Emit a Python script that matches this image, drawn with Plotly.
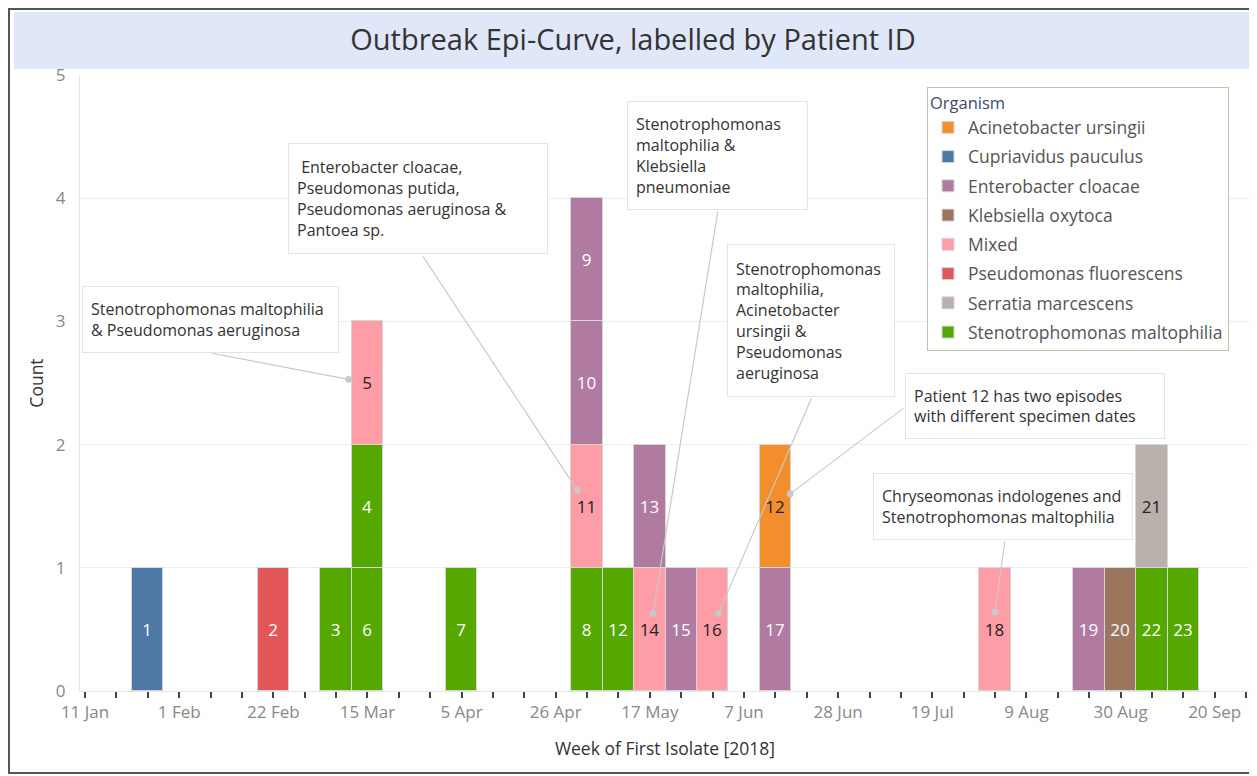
import pandas as pd
import plotly.graph_objects as go

# ---------------- data ----------------
weeks = ["2018-01-25", "2018-02-22", "2018-03-08", "2018-03-15", "2018-03-15", "2018-03-15",
         "2018-04-05", "2018-05-03", "2018-05-03", "2018-05-03", "2018-05-03", "2018-05-10",
         "2018-05-17", "2018-05-17", "2018-05-24", "2018-05-31", "2018-06-14", "2018-06-14",
         "2018-08-02", "2018-08-23", "2018-08-30", "2018-09-06", "2018-09-06", "2018-09-13"]
patients = ["1", "2", "3", "6", "4", "5", "7", "8", "11", "10", "9", "12",
            "14", "13", "15", "16", "17", "12", "18", "19", "20", "22", "21", "23"]
organisms = ["Cupriavidus pauculus", "Pseudomonas fluorescens", "Stenotrophomonas maltophilia",
             "Stenotrophomonas maltophilia", "Stenotrophomonas maltophilia", "Mixed",
             "Stenotrophomonas maltophilia", "Stenotrophomonas maltophilia", "Mixed",
             "Enterobacter cloacae", "Enterobacter cloacae", "Stenotrophomonas maltophilia",
             "Mixed", "Enterobacter cloacae", "Enterobacter cloacae", "Mixed",
             "Enterobacter cloacae", "Acinetobacter ursingii", "Mixed", "Enterobacter cloacae",
             "Klebsiella oxytoca", "Stenotrophomonas maltophilia", "Serratia marcescens",
             "Stenotrophomonas maltophilia"]
counts = [1, 1, 1, 1, 1, 1, 1, 1, 1, 1, 1, 1, 1, 1, 1, 1, 1, 1, 1, 1, 1, 1, 1, 1]

legend_order = ["Acinetobacter ursingii", "Cupriavidus pauculus", "Enterobacter cloacae",
                "Klebsiella oxytoca", "Mixed", "Pseudomonas fluorescens",
                "Serratia marcescens", "Stenotrophomonas maltophilia"]
org_colors = ["#f28e2b", "#4e79a7", "#b07aa1", "#9c755f", "#ff9da7", "#e15759",
              "#bab0ac", "#55a800"]
label_dark = ["Acinetobacter ursingii", "Mixed", "Serratia marcescens"]

tick_dates = ["2018-01-11", "2018-02-01", "2018-02-22", "2018-03-15", "2018-04-05",
              "2018-04-26", "2018-05-17", "2018-06-07", "2018-06-28", "2018-07-19",
              "2018-08-09", "2018-08-30", "2018-09-20"]
tick_labels = ["11 Jan", "1 Feb", "22 Feb", "15 Mar", "5 Apr", "26 Apr", "17 May",
               "7 Jun", "28 Jun", "19 Jul", "9 Aug", "30 Aug", "20 Sep"]

note_texts = [
    "Stenotrophomonas maltophilia<br>& Pseudomonas aeruginosa",
    "\u00a0Enterobacter cloacae,<br>Pseudomonas putida,<br>Pseudomonas aeruginosa &<br>Pantoea sp.",
    "Stenotrophomonas<br>maltophilia &<br>Klebsiella<br>pneumoniae",
    "Stenotrophomonas<br>maltophilia,<br>Acinetobacter<br>ursingii &<br>Pseudomonas<br>aeruginosa",
    "Patient 12 has two episodes<br>with different specimen dates",
    "Chryseomonas indologenes and<br>Stenotrophomonas maltophilia",
]
note_weeks = ["2018-03-15", "2018-05-03", "2018-05-17", "2018-05-31", "2018-06-14", "2018-08-02"]
note_levels = [2.53, 1.63, 0.63, 0.63, 1.6, 0.64]
note_dx_days = [-4.2, -2.2, 0.7, 1.3, 3.3, 0.0]

# ---------------- layout geometry (screen pixels) ----------------
W, H = 1257, 776
OFF = 8  # page body margin: figure origin sits at (8, 8) on screen
PL, PR, PT, PB = 80, 1250, 75, 691
X0 = pd.Timestamp("2018-01-09 21:00")
X1 = pd.Timestamp("2018-09-27 21:00")
YMAX = 5

note_boxes = [(82, 286, 339, 353), (288, 143, 548, 254), (627, 101, 808, 210),
              (727, 244, 895, 397), (905, 373, 1165, 439), (873, 473, 1133, 540)]
note_line_starts = [(210, 353), (422, 255), (718, 210), (812, 397), (905, 407), (1005, 540)]


def xpx(ts):
    return PL + (ts - X0) / (X1 - X0) * (PR - PL)


def ypx(v):
    return PB - v / YMAX * (PB - PT)


def px2paper_x(p):
    return (p - PL) / (PR - PL)


def px2paper_y(p):
    return (PB - p) / (PB - PT)


FONT = "Open Sans"
color_of = dict(zip(legend_order, org_colors))

fig = go.Figure()
seen = set()
WEEK_MS = 7 * 24 * 3600 * 1000
for wk, pid, org, c in zip(weeks, patients, organisms, counts):
    show = org not in seen
    seen.add(org)
    fig.add_trace(go.Bar(
        x=[wk], y=[c], width=[WEEK_MS], name=org, legendgroup=org, showlegend=show,
        legendrank=legend_order.index(org) + 1,
        marker=dict(color=color_of[org], line=dict(color="#d6d6d6", width=1)),
        text=[pid], textposition="inside", insidetextanchor="middle", textangle=0,
        constraintext="none",
        textfont=dict(family=FONT, size=17,
                      color="#222222" if org in label_dark else "#ffffff"),
        hovertemplate=f"{org}<br>Patient {pid}<extra></extra>",
    ))

shapes = [
    # outer frame
    dict(type="rect", xref="paper", yref="paper",
         x0=px2paper_x(OFF + 1), x1=px2paper_x(1270), y0=px2paper_y(773), y1=px2paper_y(OFF + 1),
         line=dict(color="#555555", width=2), fillcolor="rgba(0,0,0,0)", layer="below"),
    # title band
    dict(type="rect", xref="paper", yref="paper",
         x0=px2paper_x(14), x1=px2paper_x(1252), y0=px2paper_y(69), y1=px2paper_y(12),
         line=dict(width=0), fillcolor="#e0e7f8", layer="below"),
]

annotations = []
for txt, wk, lvl, dx, box, st in zip(note_texts, note_weeks, note_levels, note_dx_days,
                                     note_boxes, note_line_starts):
    tx = pd.Timestamp(wk) + pd.Timedelta(days=dx)
    annotations.append(dict(
        x=tx.strftime("%Y-%m-%d %H:%M"), y=lvl, xref="x", yref="y", text="",
        showarrow=True, arrowhead=6, arrowsize=1.4, arrowwidth=1.2, arrowcolor="#c9c9c9",
        ax=st[0] - xpx(tx), ay=st[1] - ypx(lvl), axref="pixel", ayref="pixel", standoff=0,
    ))
    bx0, by0, bx1, by1 = box
    pad = 8
    annotations.append(dict(
        x=px2paper_x(bx0), y=px2paper_y(by0), xref="paper", yref="paper",
        xanchor="left", yanchor="top", showarrow=False, text=txt, align="left",
        valign="middle", width=(bx1 - bx0) - 2 * (pad + 1), height=(by1 - by0) - 2 * (pad + 1),
        borderpad=pad, borderwidth=1, bordercolor="#e4e4e4", bgcolor="#ffffff",
        font=dict(family=FONT, size=16, color="#333333"),
    ))

fig.update_layout(
    width=W, height=H, autosize=False,
    margin=dict(l=PL - OFF, r=W - (PR - OFF), t=PT - OFF, b=H - (PB - OFF)),
    paper_bgcolor="#ffffff", plot_bgcolor="#ffffff",
    barmode="stack", bargap=0,
    font=dict(family=FONT, color="#555555"),
    title=dict(text="Outbreak Epi-Curve, labelled by Patient ID", x=(633 - OFF) / W,
               xref="container", xanchor="center", y=1 - (40 - OFF) / H, yref="container",
               yanchor="middle", font=dict(family=FONT, size=29, color="#333333")),
    xaxis=dict(
        type="date", range=[X0.strftime("%Y-%m-%d %H:%M"), X1.strftime("%Y-%m-%d %H:%M")],
        tickmode="array", tickvals=tick_dates, ticktext=tick_labels,
        ticks="outside", ticklen=6, tickwidth=1.5, tickcolor="#444444",
        minor=dict(ticks="outside", ticklen=6, tickwidth=1.5, tickcolor="#444444",
                   dtick=WEEK_MS, tick0="2018-01-11", showgrid=False),
        showgrid=False, zeroline=False, showline=True, linecolor="#e6e6e6", linewidth=1,
        tickfont=dict(family=FONT, size=17, color="#888888"),
        title=dict(text="Week of First Isolate [2018]", standoff=20,
                   font=dict(family=FONT, size=17.5, color="#333333")),
        fixedrange=True,
    ),
    yaxis=dict(
        range=[0, YMAX], dtick=1, showgrid=True, gridcolor="#eeeeee", gridwidth=1,
        zeroline=False, showline=True, linecolor="#e6e6e6", linewidth=1, ticks="",
        tickfont=dict(family=FONT, size=17, color="#888888"), ticklabelstandoff=10,
        title=dict(text="Count", standoff=7, font=dict(family=FONT, size=17.5, color="#333333")),
        fixedrange=True,
    ),
    legend=dict(
        x=px2paper_x(927), y=px2paper_y(87), xanchor="left", yanchor="top",
        bgcolor="#ffffff", bordercolor="#c5c0ac", borderwidth=1,
        traceorder="grouped", tracegroupgap=3.5,
        font=dict(family=FONT, size=17.5, color="#555555"),
        title=dict(text="Organism", font=dict(family=FONT, size=16.5, color="#3d4c6b")),
    ),
    shapes=shapes,
    annotations=annotations,
)

fig.write_html("out.html")
